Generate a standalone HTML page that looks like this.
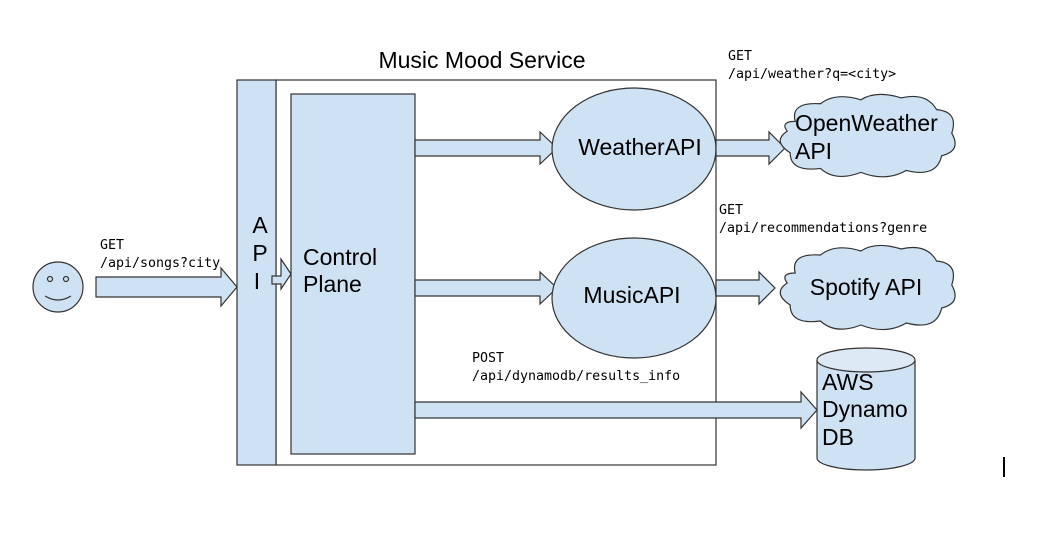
<!DOCTYPE html>
<html><head><meta charset="utf-8"><style>
html,body{margin:0;padding:0;background:#fff;}
svg{display:block;}
text{font-family:"Liberation Sans",sans-serif;fill:#000;}
.m{font-family:"DejaVu Sans Mono","Liberation Mono",monospace;font-size:13.3px;}
</style></head><body>
<svg width="1052" height="543" viewBox="0 0 1052 543" xmlns="http://www.w3.org/2000/svg">
<defs>
<path id="cloud" d="M 20 30 Q 15 10 45 12 Q 60 0 85 8 Q 100 -2 125 6 Q 150 0 160 18 Q 182 20 175 42 Q 185 60 165 65 Q 160 88 130 80 Q 110 92 85 82 Q 60 92 45 78 Q 15 82 15 62 Q -3 50 12 40 Q 5 30 20 30 Z"/>
</defs>
<g stroke="#333" stroke-width="1.2">
<rect x="276" y="80" width="440" height="385" fill="#fff"/>
<rect x="237" y="80" width="39" height="385" fill="#cfe2f3"/>
<rect x="291" y="94" width="124" height="360" fill="#cfe2f3"/>
<circle cx="58" cy="287" r="25" fill="#cfe2f3"/>
<path d="M96 277 H221 V268 L237 287 L221 306 V297 H96 Z" fill="#cfe2f3"/>
<path d="M272 276 H281 V259 L291 274 L281 289 V284 H272 Z" fill="#cfe2f3"/>
<path d="M415 140 H540 V132 L557 148 L540 164 V156 H415 Z" fill="#cfe2f3"/>
<path d="M415 280 H540 V272 L557 288 L540 304 V296 H415 Z" fill="#cfe2f3"/>
<path d="M415 402 H801 V392 L817 410 L801 428 V418 H415 Z" fill="#cfe2f3"/>
<ellipse cx="634" cy="149" rx="82" ry="61" fill="#cfe2f3"/>
<ellipse cx="634" cy="298" rx="82" ry="60" fill="#cfe2f3"/>
<path d="M716 140 H769 V132 L785 148 L769 164 V156 H716 Z" fill="#cfe2f3"/>
<path d="M716 280 H759 V272 L775 288 L759 304 V296 H716 Z" fill="#cfe2f3"/>
<use href="#cloud" transform="translate(775,92) scale(1.01,0.98)" fill="#cfe2f3"/>
<use href="#cloud" transform="translate(775,243) scale(1.01,1.0)" fill="#cfe2f3"/>
<path d="M817 360 V458 A49 12 0 0 0 915 458 V360" fill="#cfe2f3"/>
<ellipse cx="866" cy="360" rx="49" ry="12" fill="#dde9f5"/>
</g>
<g fill="none" stroke="#333" stroke-width="1.2">
<circle cx="50" cy="279" r="2.5"/>
<circle cx="66" cy="279" r="2.5"/>
<path d="M45 296 Q58 304 71 296"/>
</g>
<rect x="1003" y="457" width="2" height="20" fill="#000"/>
<text x="482" y="68" font-size="23" text-anchor="middle">Music Mood Service</text>
<text x="260" y="233" font-size="23" text-anchor="middle">A</text>
<text x="260" y="261" font-size="23" text-anchor="middle">P</text>
<text x="257" y="289" font-size="23" text-anchor="middle">I</text>
<text x="303" y="265" font-size="23">Control</text>
<text x="303" y="292" font-size="23">Plane</text>
<text x="640" y="155" font-size="23" text-anchor="middle">WeatherAPI</text>
<text x="632" y="303" font-size="23" text-anchor="middle">MusicAPI</text>
<text x="795" y="131" font-size="23">OpenWeather</text>
<text x="795" y="159" font-size="23">API</text>
<text x="866" y="295" font-size="23" text-anchor="middle">Spotify API</text>
<text x="822" y="390" font-size="23">AWS</text>
<text x="822" y="417" font-size="23">Dynamo</text>
<text x="822" y="445" font-size="23">DB</text>
<text class="m" x="100" y="249">GET</text>
<text class="m" x="100" y="267">/api/songs?city</text>
<text class="m" x="728" y="60">GET</text>
<text class="m" x="728" y="78">/api/weather?q=&lt;city&gt;</text>
<text class="m" x="719" y="214">GET</text>
<text class="m" x="719" y="232">/api/recommendations?genre</text>
<text class="m" x="472" y="362">POST</text>
<text class="m" x="472" y="380">/api/dynamodb/results_info</text>
</svg>
</body></html>
